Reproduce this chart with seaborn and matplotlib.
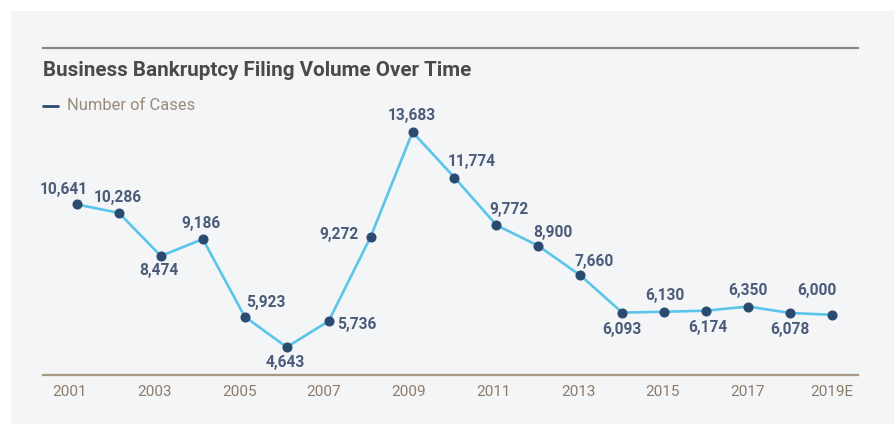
import matplotlib
matplotlib.use("Agg")
import matplotlib.pyplot as plt
from matplotlib.patches import Rectangle
import seaborn as sns
import pandas as pd
import numpy as np

years = ["2001", "2002", "2003", "2004", "2005", "2006", "2007", "2008", "2009", "2010",
         "2011", "2012", "2013", "2014", "2015", "2016", "2017", "2018", "2019E"]
cases = [10641, 10286, 8474, 9186, 5923, 4643, 5736, 9272, 13683, 11774,
         9772, 8900, 7660, 6093, 6130, 6174, 6350, 6078, 6000]
tick_labels = ["2001", "2003", "2005", "2007", "2009", "2011", "2013", "2015", "2017", "2019E"]
title = "Business Bankruptcy Filing Volume Over Time"
series_name = "Number of Cases"

# label offsets in pixels (dx, dy) -- styling only
label_offsets = [(-13, 15), (-1, 15), (-2, -15), (-2, 16), (21, 14), (-1, -15), (28, -3),
                 (-32, 3), (-1, 17), (17, 16), (13, 16), (14, 13), (14, 14), (0, -17),
                 (1, 16), (2, -17), (0, 16), (0, -17), (-15, 24)]

sns.set_theme(style="white")
plt.rcParams['font.family'] = ['Roboto', 'DejaVu Sans']

W, H = 894, 424
fig = plt.figure(figsize=(W / 100, H / 100), dpi=100)
fig.patch.set_facecolor("white")
bg = Rectangle((11 / W, 0), 1 - 11 / W, 1 - 11 / H, transform=fig.transFigure,
               facecolor="#f4f5f7", edgecolor="none", zorder=-10)
fig.patches.append(bg)

left, right, top, bottom = 43, 858, 48, 375
ax = fig.add_axes([left / W, 1 - bottom / H, (right - left) / W, (bottom - top) / H])
ax.set_facecolor("none")
ax.set_zorder(5)

df = pd.DataFrame({"idx": list(range(len(years))), "cases": cases})
sns.lineplot(data=df, x="idx", y="cases", ax=ax, color="#5bc4ea", linewidth=1.9,
             marker="o", markersize=6.5, markerfacecolor="#2b4a6f", markeredgecolor="#2b4a6f",
             zorder=3)

ax.set_xlim(-0.81, 18.62)
ax.set_ylim(3470, 17220)

for i, v in enumerate(cases):
    dx, dy = label_offsets[i]
    ax.annotate(f"{v:,}", (i, v), xytext=(dx, dy), textcoords="offset pixels",
                ha="center", va="center", fontsize=11.2, fontweight="bold",
                color="#4b5b7a", zorder=4)

# tick labels are evenly spread across the axis in the reference
ax.set_xticks(np.linspace(-0.17, len(years) - 1, len(tick_labels)))
ax.set_xticklabels(tick_labels, fontsize=11, color="#8d7b6a")
ax.tick_params(axis="x", length=0, pad=7)
ax.set_yticks([])
ax.set_xlabel("")
ax.set_ylabel("")

for s in ["left", "right"]:
    ax.spines[s].set_visible(False)
ax.spines["top"].set_color("#8a8a8a")
ax.spines["top"].set_linewidth(1.6)
ax.spines["bottom"].set_color("#a89888")
ax.spines["bottom"].set_linewidth(1.6)

fig.text(left / W, 1 - 70 / H, title, ha="left", va="center", fontsize=14.9,
         fontweight="bold", color="#4a4a4c")
fig.lines.append(plt.Line2D([left / W, 58 / W], [1 - 106 / H, 1 - 106 / H],
                            transform=fig.transFigure, color="#2b4a6f", linewidth=2))
fig.text(67 / W, 1 - 106 / H, series_name, ha="left", va="center", fontsize=11.9,
         color="#9a8a7a")

fig.savefig("out.png", dpi=100)
